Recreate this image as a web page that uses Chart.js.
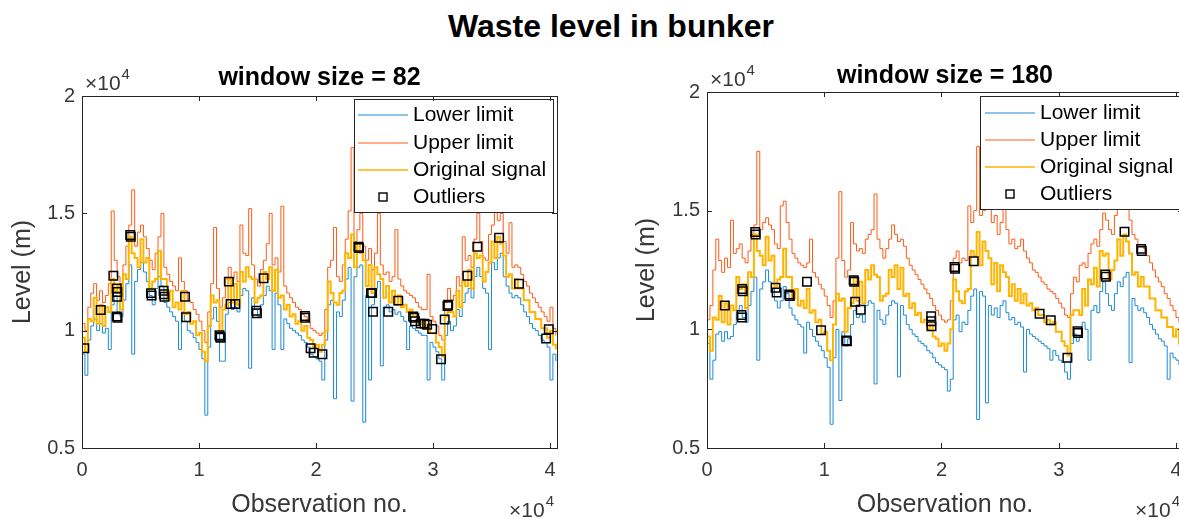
<!DOCTYPE html>
<html>
<head>
<meta charset="utf-8">
<title>Waste level in bunker</title>
<script src="https://cdn.jsdelivr.net/npm/chart.js@4.4.1/dist/chart.umd.min.js"></script>
<style>
  html, body { margin: 0; padding: 0; background: #fff; overflow: hidden; }
  #page { position: relative; width: 1179px; height: 519px; overflow: hidden; }
  #mainTitle {
    position: absolute; left: 611px; top: 10px; transform: translateX(-50%);
    font: bold 32px "Liberation Sans", Arial, sans-serif; line-height: 32px;
    white-space: nowrap; color: #000;
  }
  canvas { position: absolute; top: 0; }
</style>
</head>
<body>
<div id="page">
  <div id="mainTitle">Waste level in bunker</div>
  <canvas id="chart82" width="590" height="519" style="left:0"></canvas>
  <canvas id="chart180" width="600" height="519" style="left:600px"></canvas>
</div>
<script>
// observation spacing between samples, axis ticks
const obsStep = 250;
const xTicks = [0, 10000, 20000, 30000, 40000];
const yTicks = [0.5, 1, 1.5, 2];

// level values in units of 10^4
const signal = [
  0.97,0.91,1.05,1.04,1.14,1.03,1.11,1.02,1.1,1.08,1.22,1.17,1.19,1.09,1.24,1.22,1.4,1.33,1.31,1.27,
  1.39,1.29,1.31,1.18,1.21,1.22,1.34,1.22,1.22,1.13,1.17,1.1,1.12,1.09,1.17,1.07,1.08,1.03,1.04,0.98,
  0.99,0.91,0.87,1.02,1.15,1.12,1.13,0.99,1.09,1.11,1.22,1.12,1.2,1.11,1.25,1.21,1.27,1.23,1.22,1.12,
  1.14,1.15,1.25,1.22,1.27,1.17,1.26,1.14,1.15,1.09,1.11,1.06,1.07,1.03,1.04,1.0,1.02,0.97,0.96,0.93,
  0.94,0.91,0.94,1.0,1.21,1.16,1.12,1.11,1.16,1.17,1.33,1.31,1.41,1.27,1.37,1.33,1.3,1.19,1.28,1.16,
  1.27,1.24,1.22,1.14,1.19,1.12,1.17,1.11,1.15,1.1,1.11,1.08,1.09,1.06,1.06,1.03,1.04,1.02,1.03,0.99,
  0.99,0.95,0.93,0.89,1.06,1.08,1.08,1.06,1.17,1.1,1.21,1.19,1.26,1.18,1.33,1.31,1.32,1.21,1.25,1.29,
  1.38,1.31,1.4,1.37,1.32,1.23,1.24,1.18,1.22,1.18,1.18,1.13,1.13,1.08,1.08,1.05,1.05,1.01,1.01,0.97,
  1.0,0.94,0.92
];

const lower82 = [
  0.9,0.81,0.96,1.02,1.05,1.0,1.03,0.99,1.01,0.92,1.11,1.15,1.08,1.06,1.13,1.2,1.28,0.9,1.21,1.26,
  1.29,1.25,1.21,1.15,1.11,1.18,1.23,1.19,1.12,1.1,1.08,1.06,1.04,0.92,1.08,1.04,1.0,0.99,0.97,0.95,
  0.92,0.88,0.64,0.93,1.05,1.1,1.04,0.87,0.87,1.07,1.12,1.09,1.1,1.08,1.15,1.18,1.17,0.84,1.14,1.09,
  1.06,1.11,1.15,1.19,1.17,0.92,1.16,1.11,0.92,1.05,1.03,1.01,1.0,0.99,0.98,0.96,0.95,0.93,0.9,0.89,
  0.88,0.87,0.79,0.96,1.11,1.13,0.71,1.08,1.06,1.13,1.22,1.27,0.7,1.23,1.27,1.28,0.61,1.15,0.79,1.11,
  1.18,1.21,0.85,1.1,1.11,1.08,1.09,1.07,1.08,1.06,1.04,0.92,1.02,1.01,1.0,0.99,0.98,0.98,0.79,0.95,
  0.93,0.91,0.88,0.79,0.98,1.04,1.0,1.02,1.09,1.06,1.12,1.16,1.18,1.14,1.23,1.27,1.23,1.18,1.16,0.92,
  1.29,1.26,1.31,1.33,1.23,1.19,1.16,1.14,1.15,1.14,1.11,1.08,1.06,1.03,1.01,1.0,0.98,0.96,0.95,0.93,
  0.79,0.9,0.87
];

const upper82 = [
  1.03,1.0,1.1,1.16,1.2,1.13,1.17,1.12,1.15,1.2,1.51,1.3,1.23,1.2,1.28,1.36,1.45,1.6,1.36,1.42,
  1.45,1.4,1.35,1.3,1.26,1.33,1.4,1.5,1.27,1.24,1.21,1.19,1.17,1.31,1.21,1.17,1.13,1.12,1.09,1.07,
  1.04,1.0,0.95,1.08,1.2,1.44,1.18,1.1,1.14,1.22,1.27,1.22,1.25,1.21,1.45,1.33,1.32,1.52,1.28,1.22,
  1.19,1.26,1.3,1.37,1.5,1.28,1.31,1.25,1.53,1.19,1.16,1.14,1.12,1.1,1.09,1.07,1.06,1.04,1.01,1.0,
  0.99,0.98,0.99,1.09,1.27,1.3,1.44,1.23,1.21,1.28,1.39,1.51,1.78,1.38,1.43,1.5,1.36,1.3,1.35,1.26,
  1.33,1.5,1.28,1.24,1.25,1.21,1.23,1.43,1.22,1.19,1.17,1.16,1.15,1.14,1.12,1.1,1.09,1.09,1.24,1.06,
  1.04,1.02,0.98,0.96,1.12,1.18,1.13,1.15,1.23,1.19,1.4,1.3,1.32,1.27,1.39,1.5,1.38,1.31,1.3,1.41,
  1.45,1.52,1.47,1.5,1.38,1.33,1.46,1.27,1.28,1.27,1.24,1.21,1.19,1.16,1.14,1.12,1.1,1.08,1.06,1.04,
  1.1,1.01,0.98
];

const lower180 = [
  0.94,0.79,0.87,0.98,0.99,0.95,0.99,0.96,0.97,1.02,1.07,1.1,1.05,1.03,1.1,1.16,1.22,0.87,1.17,1.2,
  1.25,1.2,1.17,1.12,1.09,1.12,1.18,1.15,1.09,1.06,1.04,1.02,1.01,0.9,1.03,1.0,0.97,0.95,0.93,0.91,
  0.88,0.84,0.6,0.88,1.0,0.7,0.99,0.93,0.96,1.02,1.08,1.05,1.06,1.03,1.1,1.12,1.11,0.77,1.08,1.04,
  1.02,1.06,1.1,1.12,1.11,0.8,1.1,1.06,1.02,1.0,0.98,0.97,0.95,0.94,0.93,0.91,0.9,0.88,0.86,0.85,
  0.84,0.83,0.74,0.79,1.04,1.06,0.99,1.03,1.02,1.08,1.14,1.17,0.62,1.16,1.14,0.69,1.1,1.06,1.09,1.05,
  1.1,1.12,1.07,1.04,1.05,1.02,1.03,1.01,0.82,1.0,0.98,0.97,0.96,0.95,0.94,0.93,0.92,0.87,0.91,0.89,
  0.87,0.86,0.82,0.79,0.94,0.98,0.95,0.97,1.03,1.0,0.87,1.08,1.1,1.07,1.16,1.2,1.15,1.1,1.08,1.15,
  1.2,1.18,1.22,1.24,0.86,1.13,1.1,1.08,1.09,1.07,1.05,1.02,1.0,0.98,0.96,0.95,0.93,0.79,0.9,0.88,
  0.87,0.85,0.83
];

const upper180 = [
  1.04,1.1,1.25,1.38,1.29,1.24,1.3,1.26,1.46,1.32,1.34,1.36,1.3,1.28,1.33,1.4,1.44,1.75,1.42,1.45,
  1.47,1.44,1.42,1.36,1.34,1.52,1.54,1.45,1.38,1.32,1.3,1.28,1.27,1.26,1.28,1.38,1.24,1.22,1.19,1.17,
  1.14,1.1,1.05,1.12,1.3,1.58,1.29,1.22,1.25,1.45,1.36,1.33,1.34,1.32,1.38,1.4,1.42,1.57,1.38,1.34,
  1.3,1.34,1.38,1.44,1.4,1.37,1.38,1.35,1.3,1.27,1.25,1.23,1.21,1.19,1.17,1.15,1.13,1.1,1.08,1.06,
  1.04,1.03,1.04,1.12,1.3,1.33,1.28,1.3,1.29,1.52,1.45,1.5,1.77,1.48,1.5,1.52,1.52,1.45,1.48,1.4,
  1.45,1.55,1.42,1.36,1.38,1.34,1.35,1.38,1.33,1.3,1.28,1.25,1.24,1.22,1.2,1.19,1.17,1.16,1.15,1.13,
  1.11,1.09,1.06,1.05,1.15,1.22,1.2,1.27,1.28,1.26,1.32,1.36,1.38,1.35,1.42,1.49,1.46,1.42,1.4,1.48,
  1.52,1.55,1.56,1.54,1.46,1.4,1.38,1.35,1.35,1.34,1.31,1.28,1.25,1.22,1.2,1.18,1.15,1.13,1.1,1.08,
  1.05,1.03,1.02
];

const outliers82X = [200,1600,2680,2970,3020,3000,2970,3040,4120,4170,5900,5950,6980,7000,7050,8800,8900,
  11750,11800,11850,12550,12700,13100,14900,14950,15520,19050,19080,19540,19800,20550,23630,23680,
  24700,24800,24870,26180,27030,28300,28400,28460,28950,29280,29500,29930,30690,31000,31240,31300,
  32940,33790,35650,37350,39670,39900];
const outliers82Y = [0.925,1.088,1.234,1.18,1.165,1.145,1.06,1.055,1.408,1.4,1.16,1.15,1.17,1.155,1.145,1.145,1.057,
  0.98,0.974,0.97,1.209,1.114,1.114,1.085,1.074,1.223,1.062,1.055,0.925,0.906,0.9,1.358,1.352,
  1.16,1.16,1.081,1.081,1.128,1.06,1.055,1.04,1.03,1.03,1.025,1.007,0.878,1.048,1.105,1.11,
  1.234,1.358,1.396,1.2,0.967,1.006];

const outliers180X = [1520,2940,3000,3050,2980,4110,4160,5850,5940,7010,7060,8530,9730,11880,11930,
  12510,12560,12640,13110,19120,19120,19150,21110,21160,22750,28370,29320,30740,31600,31650,
  33970,34020,35610,37030,37080];
const outliers180Y = [1.1,1.06,1.17,1.16,1.05,1.41,1.4,1.175,1.155,1.147,1.14,1.2,0.996,0.953,0.95,
  1.207,1.2,1.116,1.083,1.055,1.034,1.013,1.263,1.255,1.287,1.066,1.038,0.88,0.992,0.985,
  1.231,1.222,1.411,1.339,1.33];

const FONT = '"Liberation Sans", Arial, Helvetica, sans-serif';
const AXIS_COLOR = '#262626';
const TEXT_COLOR = '#383838';
const blue = '#1a8ad4';
const orange = '#ff5a14';
const yellow = '#ffb400';

function toPoints(values) {
  return values.map((v, i) => ({ x: i * obsStep, y: v }));
}
function toOutliers(xs, ys) {
  return xs.map((x, i) => ({ x: x, y: ys[i] }));
}

function drawExponent(ctx, x, baseline, alignRight) {
  ctx.font = '21px ' + FONT;
  const w1 = ctx.measureText('\u00d710').width;
  ctx.font = '15px ' + FONT;
  const w2 = ctx.measureText('4').width;
  const start = alignRight ? x - w1 - 1 - w2 : x;
  ctx.fillStyle = TEXT_COLOR;
  ctx.textAlign = 'left';
  ctx.textBaseline = 'alphabetic';
  ctx.font = '21px ' + FONT;
  ctx.fillText('\u00d710', start, baseline);
  ctx.font = '15px ' + FONT;
  ctx.fillText('4', start + w1 + 1, baseline - 11);
}

// MATLAB-like axes box, inward ticks, legend, subplot title, exponents
const matlabFrame = {
  id: 'matlabFrame',
  afterDatasetsDraw(chart, args, opts) {
    const ctx = chart.ctx;
    const a = chart.chartArea;
    const xs = chart.scales.x, ys = chart.scales.y;
    ctx.save();

    // legend
    const L = opts.legend;
    ctx.fillStyle = '#fff';
    ctx.fillRect(L.left, L.top, L.width, L.height);
    ctx.strokeStyle = AXIS_COLOR;
    ctx.lineWidth = 1;
    ctx.strokeRect(L.left + 0.5, L.top + 0.5, L.width, L.height);
    chart.data.datasets.forEach((ds, i) => {
      const y = L.rows[i];
      if (ds.showLine === false) {
        ctx.strokeStyle = '#000';
        ctx.lineWidth = 1.4;
        ctx.strokeRect(L.markerX - 4, y - 4, 8, 8);
      } else {
        ctx.strokeStyle = ds.borderColor;
        ctx.lineWidth = Math.min(ds.borderWidth, 1.5);
        ctx.beginPath();
        ctx.moveTo(L.lineX1, y);
        ctx.lineTo(L.lineX2, y);
        ctx.stroke();
      }
      ctx.fillStyle = '#000';
      ctx.font = '21px ' + FONT;
      ctx.textAlign = 'left';
      ctx.textBaseline = 'middle';
      ctx.fillText(ds.label, L.textX, y);
    });

    // box
    ctx.strokeStyle = AXIS_COLOR;
    ctx.lineWidth = 1;
    ctx.strokeRect(Math.round(a.left) + 0.5, Math.round(a.top) + 0.5,
      Math.round(a.right - a.left), Math.round(a.bottom - a.top));

    // inward ticks on all four sides
    const tl = 5;
    ctx.beginPath();
    xs.ticks.forEach(t => {
      const px = Math.round(xs.getPixelForValue(t.value)) + 0.5;
      ctx.moveTo(px, a.bottom); ctx.lineTo(px, a.bottom - tl);
      ctx.moveTo(px, a.top); ctx.lineTo(px, a.top + tl);
    });
    ys.ticks.forEach(t => {
      const py = Math.round(ys.getPixelForValue(t.value)) + 0.5;
      ctx.moveTo(a.left, py); ctx.lineTo(a.left + tl, py);
      ctx.moveTo(a.right, py); ctx.lineTo(a.right - tl, py);
    });
    ctx.stroke();

    // subplot title
    ctx.fillStyle = '#000';
    ctx.font = 'bold 25px ' + FONT;
    ctx.textAlign = 'center';
    ctx.textBaseline = 'alphabetic';
    ctx.fillText(opts.title, (a.left + a.right) / 2, opts.titleBaseline);

    // x10^4 multipliers
    drawExponent(ctx, a.left + 3, a.top - 6, false);
    drawExponent(ctx, a.right - 3, 517, true);
    ctx.restore();
  }
};

function buildChart(id, lower, upper, outX, outY, cfg) {
  const tickFont = { family: FONT, size: 20 };
  const titleFont = { family: FONT, size: 25, lineHeight: 1.2 };
  return new Chart(document.getElementById(id), {
    type: 'line',
    data: {
      datasets: [
        { label: 'Lower limit', data: toPoints(lower), borderColor: blue, borderWidth: 1, stepped: true, order: 4 },
        { label: 'Upper limit', data: toPoints(upper), borderColor: orange, borderWidth: 1, stepped: true, order: 3 },
        { label: 'Original signal', data: toPoints(signal), borderColor: yellow, borderWidth: 2, stepped: true, order: 2 },
        { label: 'Outliers', data: toOutliers(outX, outY), showLine: false, pointStyle: 'rect',
          pointRadius: 6, pointBorderColor: '#000', pointBackgroundColor: 'rgba(0,0,0,0)',
          pointBorderWidth: 1.5, borderColor: '#000', order: 1 }
      ]
    },
    options: {
      responsive: false,
      animation: false,
      devicePixelRatio: 1,
      elements: { point: { radius: 0 }, line: { tension: 0 } },
      layout: { padding: { left: 0, top: cfg.top, right: cfg.right, bottom: 0 } },
      plugins: {
        legend: { display: false },
        tooltip: { enabled: false },
        matlabFrame: { title: cfg.title, titleBaseline: cfg.titleBaseline, legend: cfg.legend }
      },
      scales: {
        x: {
          type: 'linear', min: 0, max: 40600,
          afterBuildTicks: s => { s.ticks = xTicks.map(v => ({ value: v })); },
          afterFit: s => { s.height = 71; },
          grid: { display: false, drawTicks: false },
          border: { display: false },
          ticks: { callback: v => String(v / 10000), font: tickFont, color: TEXT_COLOR, padding: 10, maxRotation: 0 },
          title: { display: true, text: 'Observation no.', font: { family: FONT, size: 25, lineHeight: 1 },
                   color: TEXT_COLOR, padding: { top: 0, bottom: 1 } }
        },
        y: {
          type: 'linear', min: 0.5, max: 2,
          afterBuildTicks: s => { s.ticks = yTicks.map(v => ({ value: v })); },
          afterFit: s => { s.width = cfg.yWidth; },
          grid: { display: false, drawTicks: false },
          border: { display: false },
          ticks: { callback: v => String(v), font: tickFont, color: TEXT_COLOR, padding: 7 },
          title: { display: true, text: 'Level (m)', font: titleFont, color: TEXT_COLOR,
                   padding: { top: cfg.yTitlePad, bottom: 0 } }
        }
      }
    },
    plugins: [matlabFrame]
  });
}

buildChart('chart82', lower82, upper82, outliers82X, outliers82Y, {
  title: 'window size = 82', titleBaseline: 85,
  top: 96, right: 33, yWidth: 82, yTitlePad: 8,
  legend: { left: 354, top: 99, width: 199, height: 113, rows: [115, 143, 170, 197],
            lineX1: 358, lineX2: 408, markerX: 383, textX: 413 }
});

buildChart('chart180', lower180, upper180, outliers180X, outliers180Y, {
  title: 'window size = 180', titleBaseline: 83,
  top: 92, right: 17, yWidth: 107, yTitlePad: 32,
  legend: { left: 380, top: 96, width: 230, height: 113, rows: [113, 140, 167, 194],
            lineX1: 385, lineX2: 435, markerX: 410, textX: 440 }
});
</script>
</body>
</html>
